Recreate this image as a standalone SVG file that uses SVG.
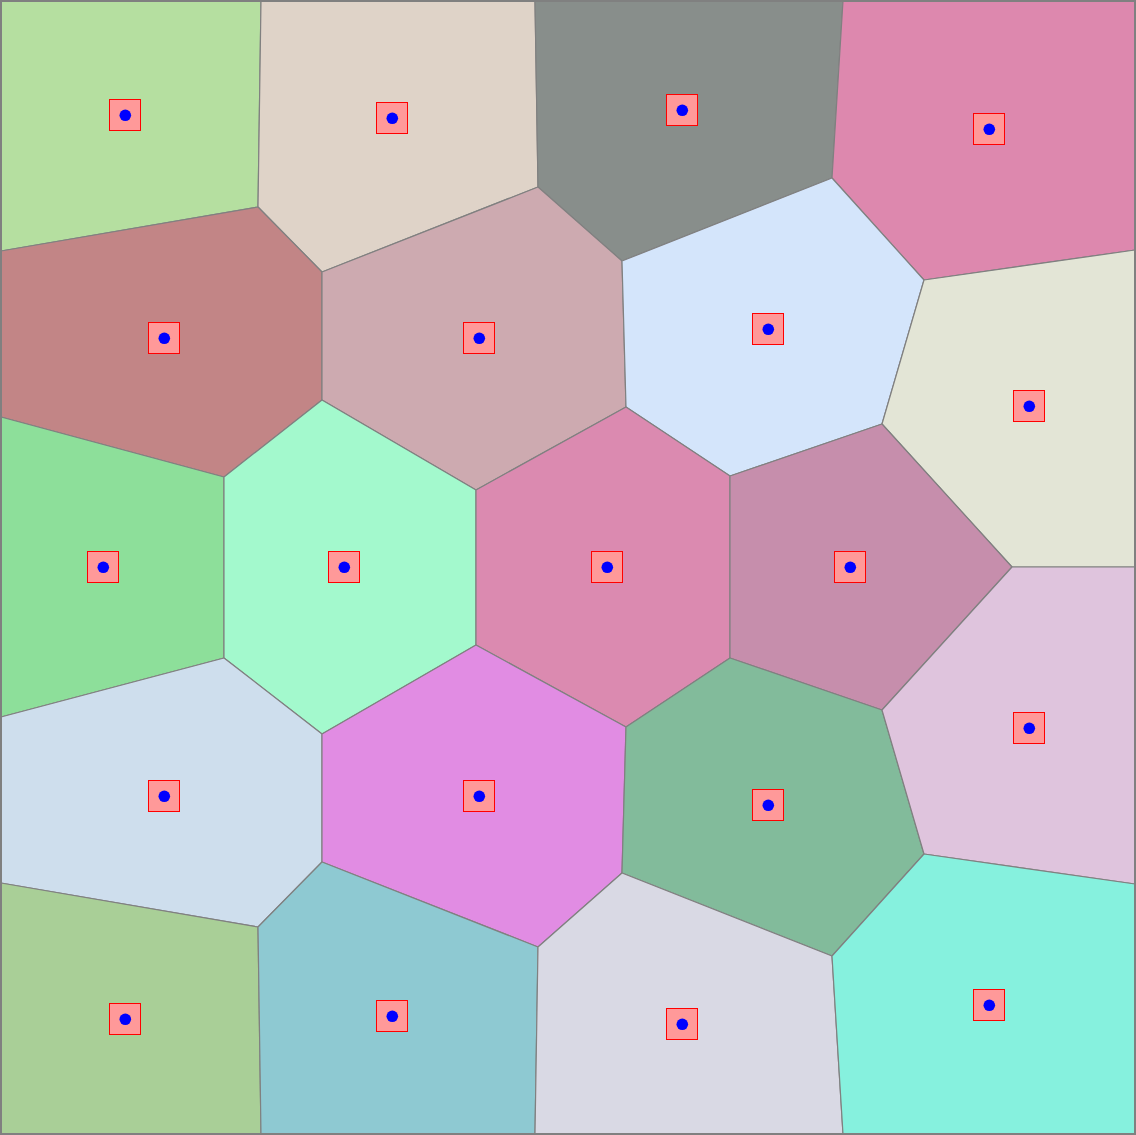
<svg xmlns="http://www.w3.org/2000/svg" width="1136" height="1135" viewBox="0 0 1136 1135">
<style>
.c{stroke:#808080;stroke-width:1.2;stroke-linejoin:round}
.m{fill:#ff9999;stroke:#ff0000;stroke-width:1}
.d{fill:#0000ff}
</style>
<defs>
<g id="mk"><rect class="m" x="-15.5" y="-15.5" width="31" height="31"/><circle class="d" cx="0.3" cy="0.3" r="5.8"/></g>
</defs>
<rect x="0" y="0" width="1136" height="1135" fill="#ffffff"/>
<g id="cells">
<g id="n1"><polygon class="c" fill="#b5dfa0" points="1,1 261,1 258,207 1,251"/><use href="#mk" x="125" y="115"/></g>
<g id="n2"><polygon class="c" fill="#dfd3c8" points="261,1 535,1 538,187 322,272 258,207"/><use href="#mk" x="392" y="118"/></g>
<g id="n3"><polygon class="c" fill="#888e8b" points="535,1 843,1 832,178 622,261 538,187"/><use href="#mk" x="682" y="110"/></g>
<g id="n4"><polygon class="c" fill="#dd88ae" points="843,1 1135,1 1135,250 924,280 832,178"/><use href="#mk" x="989" y="129"/></g>
<g id="n5"><polygon class="c" fill="#c28586" points="1,251 258,207 322,272 322,400 224,477 1,417"/><use href="#mk" x="164" y="338"/></g>
<g id="n6"><polygon class="c" fill="#cdaab0" points="322,272 538,187 622,261 626,407 476,490 322,400"/><use href="#mk" x="479" y="338"/></g>
<g id="n7"><polygon class="c" fill="#d4e5fb" points="622,261 832,178 924,280 882,424 730,476 626,407"/><use href="#mk" x="768" y="329"/></g>
<g id="n8"><polygon class="c" fill="#e3e5d6" points="924,280 1135,250 1135,567 1012,567 882,424"/><use href="#mk" x="1029" y="406"/></g>
<g id="n9"><polygon class="c" fill="#8ddf9a" points="1,417 224,477 224,658 1,717"/><use href="#mk" x="103" y="567"/></g>
<g id="n10"><polygon class="c" fill="#a3f9cd" points="224,477 322,400 476,490 476,645 322,734 224,658"/><use href="#mk" x="344" y="567"/></g>
<g id="n11"><polygon class="c" fill="#db8ab0" points="476,490 626,407 730,476 730,658 626,727 476,645"/><use href="#mk" x="607" y="567"/></g>
<g id="n12"><polygon class="c" fill="#c68eac" points="730,476 882,424 1012,567 882,710 730,658"/><use href="#mk" x="850" y="567"/></g>
<g id="n13"><polygon class="c" fill="#cedeed" points="1,717 224,658 322,734 322,862 258,927 1,883"/><use href="#mk" x="164" y="796"/></g>
<g id="n14"><polygon class="c" fill="#e18ce3" points="322,734 476,645 626,727 622,873 538,947 322,862"/><use href="#mk" x="479" y="796"/></g>
<g id="n15"><polygon class="c" fill="#82bb9b" points="626,727 730,658 882,710 924,854 832,956 622,873"/><use href="#mk" x="768" y="805"/></g>
<g id="n16"><polygon class="c" fill="#dfc4dd" points="1012,567 1135,567 1135,884 924,854 882,710"/><use href="#mk" x="1029" y="728"/></g>
<g id="n17"><polygon class="c" fill="#a9cf97" points="1,883 258,927 261,1134 1,1134"/><use href="#mk" x="125" y="1019"/></g>
<g id="n18"><polygon class="c" fill="#8ec9d2" points="258,927 322,862 538,947 535,1134 261,1134"/><use href="#mk" x="392" y="1016"/></g>
<g id="n19"><polygon class="c" fill="#d9d9e4" points="538,947 622,873 832,956 843,1134 535,1134"/><use href="#mk" x="682" y="1024"/></g>
<g id="n20"><polygon class="c" fill="#86f1de" points="832,956 924,854 1135,884 1135,1134 843,1134"/><use href="#mk" x="989" y="1005"/></g>
</g>
<g id="connectors"></g>
<rect x="1" y="1" width="1134" height="1133" fill="none" stroke="#808080" stroke-width="2"/>
</svg>
